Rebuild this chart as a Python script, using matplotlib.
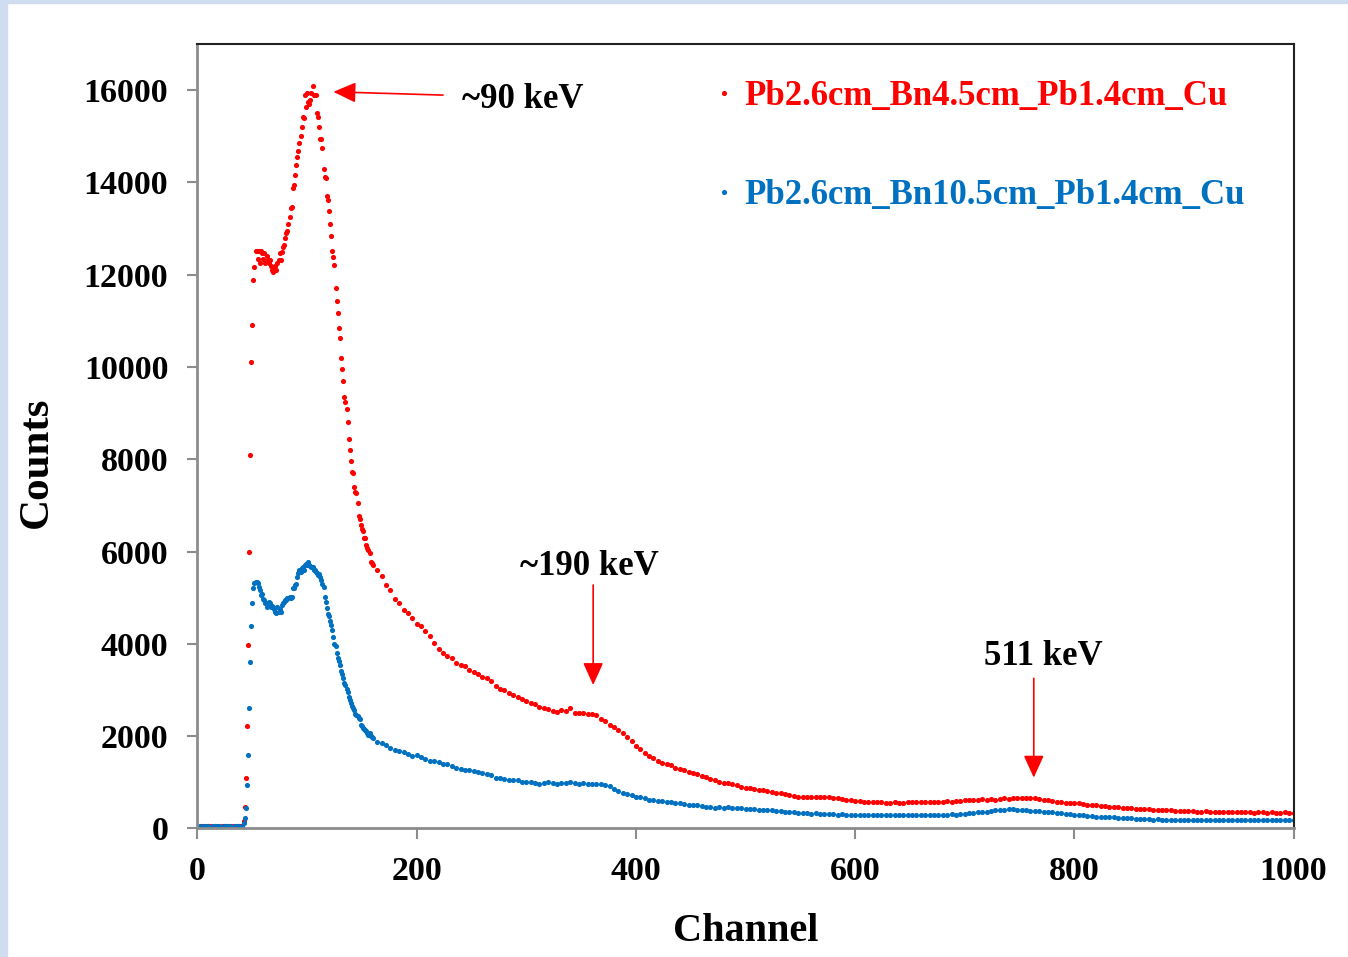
import numpy as np
import matplotlib
matplotlib.use('Agg')
import matplotlib.pyplot as plt
from matplotlib.patches import Rectangle

plt.rcParams['font.family'] = ['Liberation Serif', 'DejaVu Serif']
plt.rcParams['font.weight'] = 'bold'

# channel grid: sparse on the flat baseline, every channel through the peaks, every 4th in the tail
ch_low = np.arange(0, 41, 2)
ch_mid = np.arange(41, 161)
ch_tail = np.arange(164, 1001, 4)
channels = np.concatenate([ch_low, ch_mid, ch_tail])

label_red = 'Pb2.6cm_Bn4.5cm_Pb1.4cm_Cu'
label_blue = 'Pb2.6cm_Bn10.5cm_Pb1.4cm_Cu'

red_low = [50, 40, 50, 60, 40, 50, 50, 40, 60, 50, 40, 50, 60, 50, 40, 50, 60, 40, 50, 50, 60]
red_mid = [
    60, 150, 470, 1100, 2220, 3980, 5980, 8100, 10100, 10920,
    11880, 12170, 12510, 12510, 12330, 12510, 12260, 12510, 12460, 12330,
    12460, 12260, 12400, 12320, 12250, 12320, 12180, 12100, 12050, 12100,
    12180, 12100, 12250, 12320, 12460, 12320, 12500, 12610, 12640, 12800,
    12900, 12950, 13090, 13250, 13440, 13470, 13880, 13950, 14170, 14380,
    14550, 14680, 14850, 15000, 15200, 15420, 15400, 15890, 15640, 15930,
    15750, 15700, 15780, 15930, 16090, 15890, 15890, 15890, 15500, 15410,
    15200, 14950, 14950, 14750, 14300, 14120, 14100, 13710, 13630, 13390,
    13100, 12840, 12510, 12380, 12220, 11720, 11430, 11175, 10850, 10630,
    10200, 9950, 9700, 9350, 9250, 9100, 8810, 8450, 8200, 7970,
    7730, 7710, 7390, 7300, 7260, 7060, 6780, 6700, 6580, 6480,
    6450, 6290, 6290, 6150, 6070, 6030, 5960, 5780, 5750, 5700,
]
red_tail = [
    5600, 5460, 5280, 5160, 4980, 4880, 4730, 4660, 4560, 4440,
    4380, 4280, 4160, 4020, 3880, 3800, 3740, 3700, 3590, 3540,
    3520, 3430, 3390, 3350, 3290, 3250, 3200, 3090, 3030, 3000,
    2940, 2890, 2850, 2800, 2760, 2710, 2690, 2640, 2600, 2580,
    2550, 2530, 2560, 2540, 2600, 2510, 2490, 2500, 2480, 2470,
    2450, 2380, 2320, 2240, 2200, 2140, 2070, 1970, 1900, 1780,
    1710, 1640, 1570, 1520, 1470, 1420, 1390, 1370, 1310, 1280,
    1260, 1230, 1210, 1170, 1130, 1110, 1080, 1050, 1010, 990,
    975, 970, 930, 900, 880, 870, 850, 835, 830, 820,
    790, 770, 760, 755, 720, 700, 690, 690, 680, 690,
    680, 680, 670, 675, 665, 650, 635, 620, 610, 590,
    590, 580, 570, 580, 570, 575, 560, 560, 565, 555,
    560, 570, 575, 580, 570, 565, 580, 575, 570, 580,
    585, 580, 590, 595, 610, 605, 620, 615, 630, 620,
    635, 625, 640, 650, 645, 655, 650, 665, 660, 665,
    660, 640, 625, 610, 590, 580, 570, 560, 545, 540,
    545, 525, 515, 505, 500, 485, 475, 465, 460, 455,
    445, 440, 435, 425, 420, 420, 410, 405, 405, 400,
    390, 395, 385, 380, 385, 375, 370, 365, 362, 370,
    355, 360, 352, 355, 360, 350, 345, 355, 350, 345,
    340, 350, 345, 340, 345, 335, 340, 345, 335, 340,
]

blue_low = [50, 60, 40, 50, 50, 60, 40, 50, 50, 60, 50, 40, 50, 60, 50, 50, 40, 60, 50, 50, 40]
blue_mid = [
    40, 110, 220, 435, 940, 1600, 2600, 3600, 4390, 4890,
    5200, 5310, 5350, 5350, 5310, 5240, 5170, 5060, 5080, 4980,
    4950, 4880, 4800, 4880, 4900, 4880, 4800, 4810, 4800, 4750,
    4700, 4660, 4800, 4700, 4750, 4700, 4850, 4880, 4900, 4950,
    4950, 4990, 4990, 5020, 5000, 5020, 5200, 5200, 5270, 5300,
    5450, 5530, 5600, 5560, 5640, 5670, 5600, 5700, 5740, 5700,
    5780, 5710, 5680, 5660, 5670, 5600, 5600, 5560, 5540, 5500,
    5520, 5450, 5380, 5300, 5240, 5020, 4900, 4770, 4650, 4600,
    4500, 4400, 4300, 4150, 4000, 3950, 3800, 3700, 3620, 3540,
    3420, 3350, 3250, 3160, 3100, 3020, 2950, 2850, 2780, 2720,
    2650, 2600, 2560, 2480, 2460, 2430, 2400, 2380, 2250, 2220,
    2170, 2150, 2130, 2100, 2060, 2030, 2060, 2000, 1970, 1960,
]
blue_tail = [
    1880, 1850, 1800, 1740, 1700, 1680, 1660, 1620, 1570, 1590,
    1540, 1500, 1470, 1450, 1430, 1400, 1390, 1360, 1310, 1290,
    1270, 1260, 1240, 1220, 1200, 1170, 1160, 1100, 1090, 1080,
    1050, 1050, 1040, 1010, 1010, 1000, 980, 970, 980, 1000,
    990, 970, 980, 990, 1000, 980, 960, 975, 970, 965,
    970, 955, 950, 910, 860, 820, 770, 745, 715, 690,
    670, 650, 625, 610, 600, 585, 575, 570, 550, 540,
    535, 510, 505, 500, 480, 470, 465, 440, 455, 450,
    460, 445, 440, 435, 430, 415, 410, 400, 405, 400,
    395, 380, 370, 365, 360, 350, 330, 330, 325, 320,
    325, 320, 315, 310, 310, 300, 305, 300, 295, 295,
    290, 285, 295, 290, 285, 280, 290, 285, 290, 280,
    290, 285, 280, 290, 285, 295, 290, 300, 295, 290,
    300, 305, 300, 305, 320, 325, 330, 345, 355, 365,
    380, 395, 400, 405, 410, 410, 405, 400, 395, 385,
    380, 375, 365, 360, 350, 340, 330, 320, 305, 295,
    290, 280, 270, 260, 255, 248, 242, 240, 238, 230,
    225, 220, 215, 210, 205, 200, 195, 190, 195, 185,
    190, 180, 185, 180, 185, 175, 180, 185, 180, 175,
    185, 180, 175, 180, 185, 180, 175, 180, 185, 180,
    175, 180, 185, 180, 175, 185, 180, 175, 185, 180,
]

red = np.array(red_low + red_mid + red_tail)
blue = np.array(blue_low + blue_mid + blue_tail)

RED = '#ff0000'
BLUE = '#0070c0'

fig = plt.figure(figsize=(13.48, 9.57), dpi=100)
# light slide background strip on the left / top edge
fig.patches.append(Rectangle((0, 0), 7 / 1348, 1, transform=fig.transFigure,
                             color='#d0dcf0', zorder=0))
fig.patches.append(Rectangle((0, 1 - 3 / 957), 1, 3 / 957, transform=fig.transFigure,
                             color='#d0dcf0', zorder=0))

ax = fig.add_axes([0.1465, 0.1344, 0.8131, 0.8196])
ax.plot(channels, red, 'o', color=RED, ms=3.7, mec='none', label=label_red)
ax.plot(channels, blue, 'o', color=BLUE, ms=3.7, mec='none', label=label_blue)

ax.set_xlim(0, 1000)
ax.set_ylim(0, 17000)
ax.set_xticks(np.arange(0, 1001, 200))
ax.set_yticks(np.arange(0, 16001, 2000))

for s in ['top', 'right']:
    ax.spines[s].set_color('#222222')
    ax.spines[s].set_linewidth(1.5)
for s in ['left', 'bottom']:
    ax.spines[s].set_color('#8c8c8c')
    ax.spines[s].set_linewidth(2)

ax.tick_params(axis='y', direction='out', length=7, width=1.5, color='#8c8c8c',
               labelsize=24.5, pad=14)
ax.tick_params(axis='x', direction='out', length=8, width=1.5, color='#8c8c8c',
               labelsize=24.5, pad=12)
for lab in ax.get_xticklabels() + ax.get_yticklabels():
    lab.set_fontweight('bold')

ax.set_xlabel('Channel', fontsize=29, fontweight='bold')
ax.set_ylabel('Counts', fontsize=31, fontweight='bold')
ax.xaxis.set_label_coords(0.5, -0.132)
ax.xaxis.label.set_va('center')
ax.yaxis.set_label_coords(-0.1464, 0.467)
ax.yaxis.label.set_va('center')

leg = ax.legend(loc='upper left', bbox_to_anchor=(0.4455, 0.994), frameon=False,
                handlelength=0.4, handletextpad=0.4, labelspacing=1.9,
                borderpad=0.4, labelcolor='linecolor', prop={'weight': 'bold', 'size': 25})

arrow = dict(arrowstyle='-|>,head_length=0.55,head_width=0.25', color=RED, lw=1.2,
             mutation_scale=25, shrinkA=0, shrinkB=0)
ax.annotate('', xy=(124, 15964), xytext=(224, 15893), arrowprops=arrow)
ax.annotate('', xy=(361, 3107), xytext=(361, 5274), arrowprops=arrow)
ax.annotate('', xy=(763, 1099), xytext=(763, 3253), arrowprops=arrow)

ax.text(241, 15611, '~90 keV', fontsize=25, fontweight='bold', ha='left', va='baseline')
ax.text(358, 5491, '~190 keV', fontsize=25, fontweight='bold', ha='center', va='baseline')
ax.text(772, 3541, '511 keV', fontsize=25, fontweight='bold', ha='center', va='baseline')

plt.savefig('out.png', dpi=100)
